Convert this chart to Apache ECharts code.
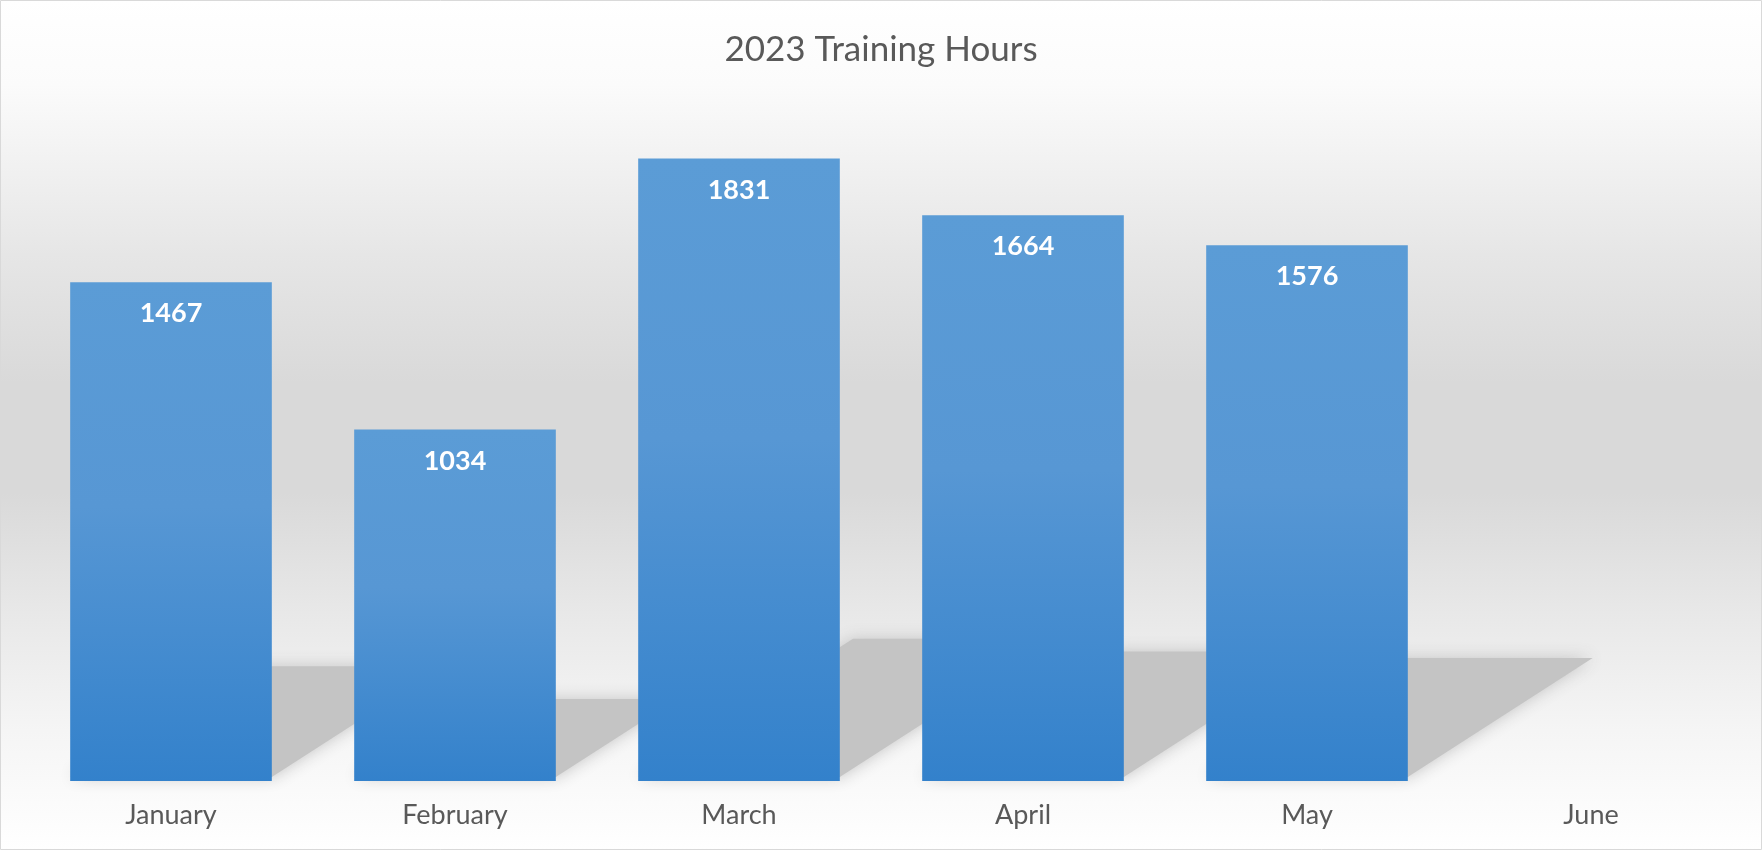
<!DOCTYPE html>
<html>
<head>
<meta charset="utf-8">
<script src="https://cdn.jsdelivr.net/npm/echarts@6/dist/echarts.min.js"></script>
<style>
  html, body { margin: 0; padding: 0; }
  #chart {
    width: 1762px; height: 850px;
    background: linear-gradient(to bottom, #ffffff 0%, #fbfbfb 10%, #e6e6e6 30%, #d9d9d9 45%, #d9d9d9 58%, #e8e8e8 72%, #f5f5f5 86%, #ffffff 100%);
  }
</style>
</head>
<body>
<div id="chart"></div>
<script>
const titleText = '2023 Training Hours';
const months = ['January', 'February', 'March', 'April', 'May', 'June'];
const hours = [1467, 1034, 1831, 1664, 1576, null];

const chart = echarts.init(document.getElementById('chart'), null, { renderer: 'canvas' });
const font = 'Lato, "Open Sans", sans-serif';

const BAR_FRAC = 0.71;
const option = {
  animation: false,
  title: {
    text: titleText,
    left: 'center',
    top: 27,
    textStyle: { fontFamily: font, fontSize: 35, fontWeight: 'normal', color: '#595959' }
  },
  grid: { left: 29, right: 29, top: 101, bottom: 69 },
  xAxis: {
    type: 'category',
    data: months,
    axisLine: { show: false },
    axisTick: { show: false },
    axisLabel: { fontFamily: font, fontSize: 27, color: '#595959', margin: 21 }
  },
  yAxis: {
    type: 'value',
    min: 0, max: 2000,
    show: false,
    splitLine: { show: false }
  },
  graphic: [{
    type: 'rect', silent: true, z: 100,
    shape: { x: 0.5, y: 0.5, width: 1761, height: 849 },
    style: { fill: 'none', stroke: '#d9d9d9', lineWidth: 1 }
  }],
  series: [
    {
      type: 'custom',
      z: 1,
      silent: true,
      data: hours.map((v, i) => [i, v]),
      renderItem: function (params, api) {
        const v = api.value(1);
        if (v == null || isNaN(v)) return null;
        const idx = api.value(0);
        const base = api.coord([idx, 0]);
        const top = api.coord([idx, v]);
        const bw = api.size([1, 0])[0] * BAR_FRAC;
        const h = base[1] - top[1];
        const xl = base[0] - bw / 2, xr = base[0] + bw / 2;
        const yb = base[1] - 4;
        const dy = h * 0.222, dx = h * 0.345;
        return {
          type: 'polygon',
          shape: { points: [[xl, yb], [xr, yb], [xr + dx, yb - dy], [xl + dx, yb - dy]] },
          style: { fill: '#c4c4c4', shadowBlur: 16, shadowColor: '#c4c4c4' }
        };
      }
    },
    {
      type: 'bar',
      z: 2,
      data: hours,
      barWidth: (BAR_FRAC * 100) + '%',
      itemStyle: {
        color: new echarts.graphic.LinearGradient(0, 0, 0, 1, [
          { offset: 0, color: '#5b9cd6' },
          { offset: 0.45, color: '#5797d4' },
          { offset: 1, color: '#3381cb' }
        ])
      },
      label: {
        show: true,
        position: 'insideTop',
        distance: 18,
        fontFamily: font,
        fontSize: 27,
        fontWeight: 'bold',
        color: '#ffffff'
      }
    }
  ]
};
chart.setOption(option);
</script>
</body>
</html>
